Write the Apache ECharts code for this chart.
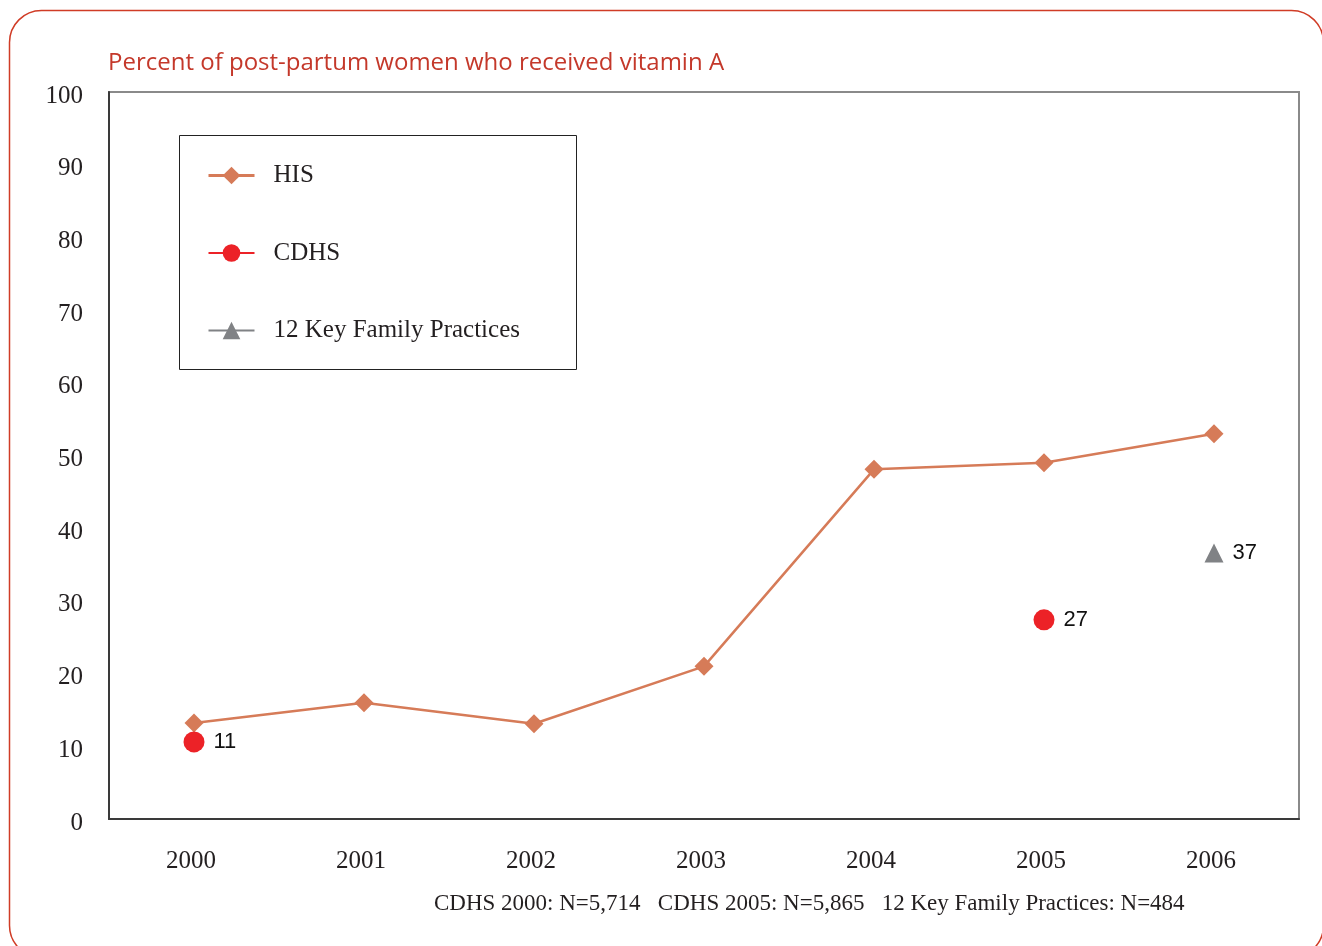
<!DOCTYPE html>
<html>
<head>
<meta charset="utf-8">
<script src="https://cdn.jsdelivr.net/npm/echarts@6/dist/echarts.min.js"></script>
<style>
html,body{margin:0;padding:0;background:#fff;}
#chart{width:1322px;height:946px;}
</style>
</head>
<body>
<div id="chart"></div>
<script>
const titleText = 'Percent of post-partum women who received vitamin A';
const footnote = 'CDHS 2000: N=5,714   CDHS 2005: N=5,865   12 Key Family Practices: N=484';
const years = ['2000', '2001', '2002', '2003', '2004', '2005', '2006'];
const hisValues = [13.2, 16.0, 13.1, 21.0, 48.1, 49.0, 53.0];
const cdhsValues = [10.6, null, null, null, null, 27.4, null];
const kfpValues = [null, null, null, null, null, null, 36.6];
const seriesNames = ['HIS', 'CDHS', '12 Key Family Practices'];

const serif = '"Liberation Serif", "DejaVu Serif", serif';
const sans = '"Liberation Sans", Arial, sans-serif';
const cHIS = '#d67b58', cCDHS = '#ec2227', cKFP = '#808285';

const chart = echarts.init(document.getElementById('chart'), null, {renderer: 'canvas'});
const dataLabel = {
  show: true, position: 'right', distance: 9,
  fontFamily: sans, fontSize: 22, color: '#111',
  formatter: p => Math.round(p.value)
};
chart.setOption({
  animation: false,
  backgroundColor: '#fff',
  title: {
    text: titleText, left: 103, top: 46,
    textStyle: {fontFamily: '"Open Sans", sans-serif', fontWeight: 'normal', fontSize: 24, color: '#c4382a'}
  },
  graphic: [
    {type: 'rect', shape: {x: 9.5, y: 10.5, width: 1314, height: 947, r: 32},
     style: {fill: 'none', stroke: '#d03c26', lineWidth: 1.5}, z: 0, silent: true},
    {type: 'rect', shape: {x: 179.5, y: 135.5, width: 397, height: 234},
     style: {fill: '#fff', stroke: '#222', lineWidth: 1}, z: 5, silent: true},
    {type: 'text', left: 434, top: 892,
     style: {text: footnote, fontFamily: serif, fontSize: 23, fill: '#231f20'}, z: 5}
  ],
  legend: {
    data: [
      {name: seriesNames[0], lineStyle: {color: cHIS, width: 3}},
      {name: seriesNames[1], lineStyle: {color: cCDHS, width: 2}},
      {name: seriesNames[2], lineStyle: {color: cKFP, width: 2}}
    ],
    orient: 'vertical', left: 202, top: 158, z: 6,
    itemWidth: 46, itemHeight: 22, itemGap: 52.5,
    textStyle: {fontFamily: serif, fontSize: 25, color: '#231f20', padding: [0, 0, 0, 14]}
  },
  grid: {left: 109, right: 23, top: 92, bottom: 127, show: true, borderColor: '#8a8a8a', borderWidth: 2},
  xAxis: {
    type: 'category', data: years, boundaryGap: true,
    axisLine: {lineStyle: {color: '#3a3a3a', width: 2}},
    axisTick: {show: false},
    axisLabel: {fontFamily: serif, fontSize: 25, color: '#231f20', margin: 30, padding: [0, 6, 0, 0]}
  },
  yAxis: {
    type: 'value', min: 0, max: 100, interval: 10,
    axisLine: {show: true, lineStyle: {color: '#3a3a3a', width: 2}},
    axisTick: {show: false},
    splitLine: {show: false},
    axisLabel: {
      color: '#231f20', margin: 26,
      formatter: '{v|{value}}',
      rich: {v: {fontFamily: serif, fontSize: 25, color: '#231f20', padding: [8, 0, 0, 0]}}
    }
  },
  series: [
    {name: seriesNames[0], type: 'line', data: hisValues, symbol: 'diamond', symbolSize: 19,
     itemStyle: {color: cHIS}, lineStyle: {color: cHIS, width: 2.5}, z: 3},
    {name: seriesNames[1], type: 'line', data: cdhsValues, symbol: 'circle', symbolSize: 21,
     showAllSymbol: true, connectNulls: false,
     itemStyle: {color: cCDHS}, lineStyle: {color: cCDHS, width: 2}, label: dataLabel, z: 4},
    {name: seriesNames[2], type: 'line', data: kfpValues, symbol: 'triangle', symbolSize: 19,
     showAllSymbol: true,
     itemStyle: {color: cKFP}, lineStyle: {color: cKFP, width: 2}, label: dataLabel, z: 4}
  ]
});
</script>
</body>
</html>
